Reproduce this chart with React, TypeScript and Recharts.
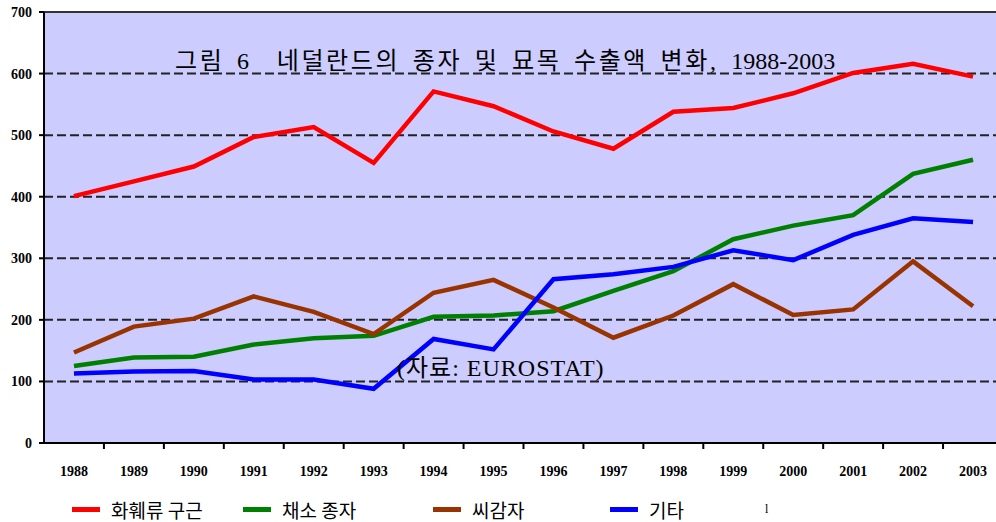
import React from "react";
import { LineChart, Line, XAxis, YAxis, ReferenceLine, ReferenceArea } from "recharts";

const years = [1988, 1989, 1990, 1991, 1992, 1993, 1994, 1995, 1996, 1997, 1998, 1999, 2000, 2001, 2002, 2003];
const flowerBulbs = [401, 425, 449, 497, 513, 455, 571, 547, 506, 478, 538, 544, 568, 601, 616, 595];
const vegetableSeeds = [125, 139, 140, 160, 170, 174, 205, 207, 214, 247, 279, 331, 353, 370, 437, 460];
const seedPotatoes = [147, 189, 202, 238, 213, 177, 244, 265, 220, 171, 207, 258, 208, 217, 295, 222];
const others = [113, 116, 117, 103, 103, 88, 169, 152, 266, 274, 286, 313, 297, 338, 365, 359];
const yTicks = [0, 100, 200, 300, 400, 500, 600, 700];
const gridValues = [100, 200, 300, 400, 500, 600];

const seriesNames = ["화훼류 구근", "채소 종자", "씨감자", "기타"];
const seriesColors = ["#FF0000", "#008000", "#993300", "#0000FF"];
const seriesKeys = ["flower", "veg", "potato", "other"];

const titleKorean = "그림 6  네덜란드의 종자 및 묘목 수출액 변화, ";
const titleYears = "1988-2003";
const sourceText = "(자료: EUROSTAT)";

const data = years.map((y, i) => ({
  year: y,
  flower: flowerBulbs[i],
  veg: vegetableSeeds[i],
  potato: seedPotatoes[i],
  other: others[i],
}));

const CHART_W = 1010;
const CHART_H = 522;
const M_TOP = 12;
const M_RIGHT = 7;
const Y_W = 44;
const X_H = 79;
const PLOT_W = CHART_W - Y_W - M_RIGHT;
const PLOT_BOTTOM = CHART_H - X_H;
const HALF_BAND = PLOT_W / years.length / 2;

const serif = "'Liberation Serif', 'Times New Roman', 'Noto Sans CJK KR', serif";
const korSans = "'Noto Sans CJK KR', 'Noto Sans', sans-serif";

const XTick = (props: any) => {
  const { x, payload } = props;
  return (
    <g>
      <text
        x={x}
        y={PLOT_BOTTOM + 33}
        textAnchor="middle"
        fontFamily={serif}
        fontWeight="bold"
        fontSize={14}
        fill="#000"
      >
        {payload.value}
      </text>
      <line x1={x + HALF_BAND} x2={x + HALF_BAND} y1={PLOT_BOTTOM} y2={PLOT_BOTTOM + 6} stroke="#000" strokeWidth={2} />
    </g>
  );
};

export default function App() {
  return (
    <div style={{ position: "absolute", left: 0, top: 0, width: 996, height: 522, overflow: "hidden", background: "#fff" }}>
      <LineChart
        width={CHART_W}
        height={CHART_H}
        data={data}
        margin={{ top: M_TOP, right: M_RIGHT, left: 0, bottom: 0 }}
      >
        <ReferenceArea x1={1987.5} x2={2003.5} y1={0} y2={700} fill="#CCCCFF" fillOpacity={1} stroke="none" />
        {gridValues.map((v) => (
          <ReferenceLine key={v} y={v} stroke="#222" strokeWidth={2} strokeDasharray="9 4" />
        ))}
        <ReferenceLine y={700} stroke="#333" strokeWidth={2} />
        <XAxis
          dataKey="year"
          type="number"
          domain={[1987.5, 2003.5]}
          ticks={years}
          height={X_H}
          tickLine={false}
          axisLine={{ stroke: "#000", strokeWidth: 2 }}
          tick={<XTick />}
          interval={0}
        />
        <YAxis
          domain={[0, 700]}
          ticks={yTicks}
          width={Y_W}
          tickSize={5}
          tickMargin={7}
          axisLine={{ stroke: "#000", strokeWidth: 2 }}
          tickLine={{ stroke: "#000", strokeWidth: 2 }}
          tick={{ fontFamily: serif, fontWeight: "bold", fontSize: 14, fill: "#000" }}
          interval={0}
        />
        {seriesKeys.map((k, i) => (
          <Line
            key={k}
            type="linear"
            dataKey={k}
            name={seriesNames[i]}
            stroke={seriesColors[i]}
            strokeWidth={4.5}
            dot={false}
            isAnimationActive={false}
          />
        ))}
      </LineChart>
      <div
        style={{
          position: "absolute",
          left: 175,
          top: 45,
          fontFamily: serif,
          fontSize: 24,
          lineHeight: "32px",
          color: "#000",
          whiteSpace: "pre",
        }}
      >
        <span style={{ letterSpacing: 2.6, wordSpacing: 4 }}>{titleKorean}</span>
        <span>{titleYears}</span>
      </div>
      <div
        style={{
          position: "absolute",
          left: 397,
          top: 352,
          fontFamily: serif,
          fontSize: 24,
          letterSpacing: 1,
          lineHeight: "32px",
          color: "#000",
          whiteSpace: "pre",
        }}
      >
        {sourceText}
      </div>
      {seriesNames.map((n, i) => {
        const lefts = [72, 243, 433, 610];
        return (
          <div
            key={n}
            style={{ position: "absolute", left: lefts[i], top: 496, height: 26, display: "flex", alignItems: "center" }}
          >
            <div style={{ width: 28, height: 5, background: seriesColors[i] }} />
            <span style={{ marginLeft: 11, fontFamily: korSans, fontSize: 19, color: "#000", whiteSpace: "pre" }}>{n}</span>
          </div>
        );
      })}
      <div style={{ position: "absolute", left: 765, top: 502, fontFamily: serif, fontSize: 12, color: "#000" }}>l</div>
    </div>
  );
}
